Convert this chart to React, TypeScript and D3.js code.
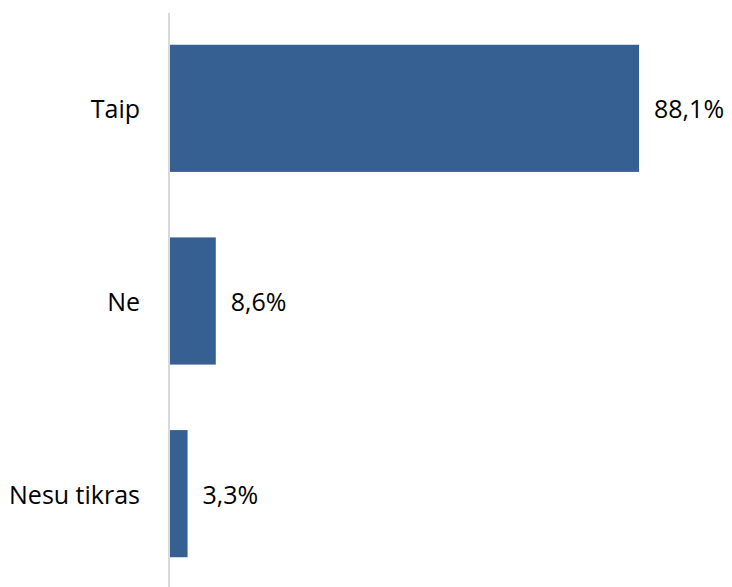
import React from "react";
import * as d3 from "d3";

const categories = ["Taip", "Ne", "Nesu tikras"];
const values = [88.1, 8.6, 3.3];
const valueLabels = ["88,1%", "8,6%", "3,3%"];

const W = 732;
const H = 587;

export default function App() {
  const x = d3.scaleLinear().domain([0, 100]).range([170, 702.4]);
  const y = d3
    .scaleBand<string>()
    .domain(categories)
    .range([12, 590])
    .paddingInner(0.34)
    .paddingOuter(0.17);
  const font = "'Open Sans', sans-serif";
  return (
    <svg
      width={W}
      height={H}
      style={{ position: "absolute", left: 0, top: 0, background: "#fff" }}
    >
      {categories.map((c, i) => {
        const y0 = y(c)!;
        const bw = y.bandwidth();
        return (
          <g key={c}>
            <rect
              x={x(0)}
              y={y0}
              width={x(values[i]) - x(0)}
              height={bw}
              fill="#376092"
            />
            <text
              x={140}
              y={y0 + bw / 2}
              textAnchor="end"
              dominantBaseline="central"
              fontFamily={font}
              fontSize={25}
              fill="#000"
            >
              {c}
            </text>
            <text
              x={x(values[i]) + 15}
              y={y0 + bw / 2}
              textAnchor="start"
              dominantBaseline="central"
              fontFamily={font}
              fontSize={25}
              fill="#000"
            >
              {valueLabels[i]}
            </text>
          </g>
        );
      })}
      <line x1={169} x2={169} y1={13} y2={587} stroke="#d9d9d9" strokeWidth={2} />
    </svg>
  );
}
